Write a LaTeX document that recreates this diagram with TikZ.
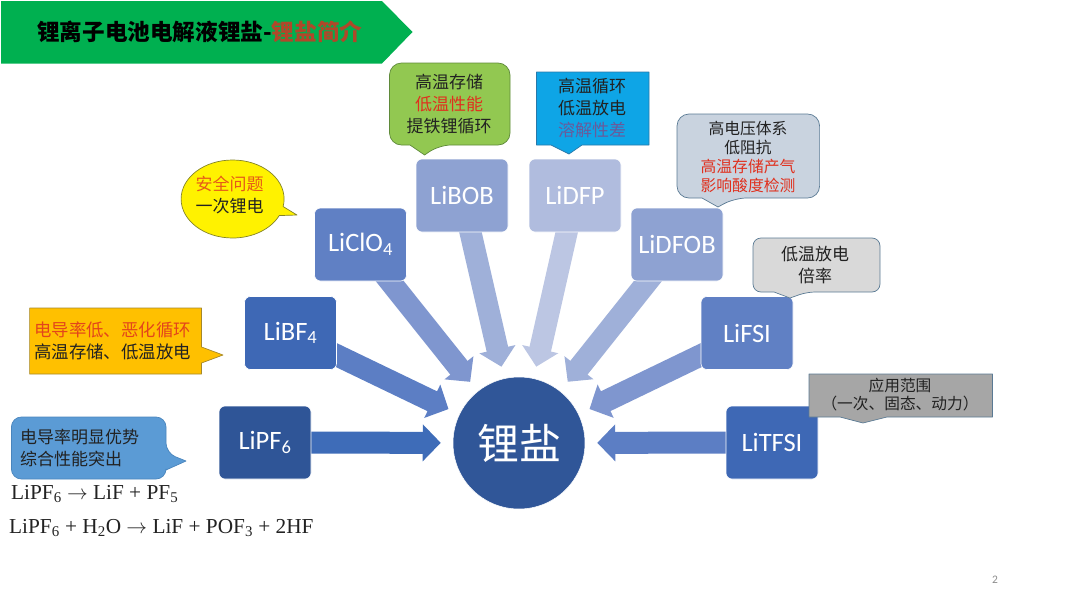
\documentclass[tikz,border=0pt]{standalone}
\usepackage{fontspec}
\setmainfont{Liberation Serif}
\setsansfont{Carlito}
\newfontfamily\cjk{Noto Sans CJK SC}
\usetikzlibrary{arrows.meta,backgrounds,shapes.callouts}
\definecolor{cA}{HTML}{2F5597}
\definecolor{cB}{HTML}{3E68B5}
\definecolor{cC}{HTML}{6080C4}
\definecolor{cD}{HTML}{8EA2D2}
\definecolor{cE}{HTML}{B0BCDE}
\definecolor{aA}{HTML}{3E6CB8}
\definecolor{aB}{HTML}{5C7EC4}
\definecolor{aC}{HTML}{7F96CF}
\definecolor{aD}{HTML}{9FB0D9}
\definecolor{aE}{HTML}{BCC6E3}
\definecolor{hotred}{HTML}{E0301E}
\definecolor{titlered}{HTML}{B0482A}
\definecolor{dullpurple}{HTML}{6A5A9A}
\definecolor{ink}{HTML}{222222}
\definecolor{edgeblue}{HTML}{5A7A94}
\definecolor{titlegreen}{HTML}{00B050}
\tikzset{
  saltbox/.style={rounded corners=6pt,minimum width=92pt,minimum height=73pt,inner sep=0pt,text=white,draw=white,line width=.6pt,
    font=\sffamily\fontsize{26.5}{29}\selectfont},
  fatarrow/.style={line width=22pt,-{Triangle[length=18pt,width=36pt]},shorten >=12pt},
  note/.style={font=\cjk\fontsize{17}{22}\selectfont,text=ink,align=center,inner sep=0pt},
  smallnote/.style={font=\cjk\fontsize{15.8}{19}\selectfont,text=ink,align=center,inner sep=0pt},
  shell/.style={line width=.7pt,line join=round},
  formula/.style={font=\fontsize{21.3}{24}\selectfont,text=ink,anchor=base west,inner sep=0pt},
}
\begin{document}
\begin{tikzpicture}[x=1pt,y=-1pt]
\useasboundingbox (0,0) rectangle (1080,608);
% title
\path[fill=titlegreen] (1,1) -- (382,1) -- (412.5,32) -- (382,63.5) -- (1,63.5) -- cycle;
\node[anchor=west,inner sep=0pt,font=\cjk\bfseries\fontsize{22.6}{26}\selectfont,text=black] (title) at (37,31.5) {锂离子电池电解液锂盐-\textcolor{titlered}{锂盐简介}};
% centre
\node[circle,minimum size=132pt,inner sep=0pt,fill=cA!95!cB,draw=white,line width=.5pt,text=white,font=\cjk\fontsize{42}{46}\selectfont] (salt) at (519,443) {锂盐};
% salts
\node[saltbox,fill=cA] (pf) at (265,442.5) {LiPF\textsubscript{6}};
\node[saltbox,fill=cB] (bf) at (290.5,333) {LiBF\textsubscript{4}};
\node[saltbox,fill=cC] (clo) at (360.5,244.5) {LiClO\textsubscript{4}};
\node[saltbox,fill=cD] (bob) at (462,195.5) {LiBOB};
\node[saltbox,fill=cE] (dfp) at (575,195.5) {LiDFP};
\node[saltbox,fill=cD] (dfob) at (677,244.5) {LiDFOB};
\node[saltbox,fill=cC] (fsi) at (747,333) {LiFSI};
\node[saltbox,fill=cB] (tfsi) at (772,442.5) {LiTFSI};
\begin{scope}[on background layer]
\draw[fatarrow,aA] (pf.center) -- (salt);
\draw[fatarrow,aB] (bf.center) -- (salt);
\draw[fatarrow,aC] (clo.center) -- (salt);
\draw[fatarrow,aD] (bob.center) -- (salt);
\draw[fatarrow,aE] (dfp.center) -- (salt);
\draw[fatarrow,aD] (dfob.center) -- (salt);
\draw[fatarrow,aC] (fsi.center) -- (salt);
\draw[fatarrow,aB] (tfsi.center) -- (salt);
\end{scope}
% green callout
\draw[shell,fill={rgb,255:red,146;green,200;blue,81},draw={rgb,255:red,95;green,138;blue,58},rounded corners=12pt]
  (389.5,104) -- (389.5,63) -- (510,63) -- (510,145) -- (439,145) [sharp corners] -- (424.6,155) -- (410,145) [rounded corners=12pt] -- (389.5,145) -- cycle;
\node[note] (nbob) at (449,104) {高温存储\\\textcolor{hotred}{低温性能}\\提铁锂循环};
% blue callout
\draw[shell,fill={rgb,255:red,14;green,165;blue,230},draw={rgb,255:red,40;green,120;blue,170}]
  (536.5,72) -- (649,72) -- (649,145) -- (582,145) -- (569,154) -- (551,145) -- (536.5,145) -- cycle;
\node[note] (ndfp) at (592,108) {高温循环\\低温放电\\\textcolor{dullpurple}{溶解性差}};
% DFOB callout
\draw[shell,fill={rgb,255:red,201;green,211;blue,223},draw=edgeblue,rounded corners=12pt]
  (677,156) -- (677,114) -- (819.6,114) -- (819.6,198) -- (734.5,198) [sharp corners] -- (718,207) -- (702,198) [rounded corners=12pt] -- (677,198) -- cycle;
\node[smallnote] (ndfob) at (748,156.5) {高电压体系\\低阻抗\\\textcolor{hotred}{高温存储产气}\\\textcolor{hotred}{影响酸度检测}};
% FSI callout
\draw[shell,fill={rgb,255:red,217;green,217;blue,217},draw=edgeblue,rounded corners=8pt]
  (753,265) -- (753,238) -- (880,238) -- (880,292) -- (807,292) [sharp corners] -- (790,298) -- (774,292) [rounded corners=8pt] -- (753,292) -- cycle;
\node[note] (nfsi) at (815,265) {低温放电\\倍率};
% TFSI callout
\draw[shell,fill={rgb,255:red,166;green,166;blue,166},draw=edgeblue]
  (809,374) -- (992.5,374) -- (992.5,417) -- (887,417) -- (863,423) -- (840,417) -- (809,417) -- cycle;
\node[font=\cjk\fontsize{15.7}{18}\selectfont,text=ink,align=center,inner sep=0pt] (ntfsi) at (900,395) {应用范围\\（一次、固态、动力）};
% yellow callout
\node[ellipse callout,minimum width=103pt,minimum height=78pt,inner sep=0pt,callout absolute pointer={(297,215)},callout pointer arc=14,fill=yellow,draw={rgb,255:red,130;green,130;blue,40},shell] (yshell) at (232.6,199) {};
\node[note] (nclo) at (229.5,195) {\textcolor{hotred!80!yellow}{安全问题}\\一次锂电};
% orange callout
\draw[shell,fill={rgb,255:red,255;green,192;blue,0},draw={rgb,255:red,165;green,136;blue,42}]
  (29.6,308) -- (201.5,308) -- (201.5,347) -- (223,355) -- (201.5,363) -- (201.5,374) -- (29.6,374) -- cycle;
\node[note,font=\cjk\fontsize{17.4}{22}\selectfont,align=left,anchor=west] (nbf) at (34,341) {\textcolor{hotred!90!yellow}{电导率低、恶化循环}\\高温存储、低温放电};
% light-blue callout
\draw[shell,fill={rgb,255:red,91;green,155;blue,213},draw={rgb,255:red,74;green,133;blue,189},rounded corners=10pt]
  (11.4,448) -- (11.4,417) -- (166,417) -- (166,453) [sharp corners] -- (186,461) -- (166,470) [rounded corners=10pt] -- (166,479) -- (11.4,479) -- cycle;
\node[note,align=left,anchor=west,text=ink] (npf) at (20,448) {电导率明显优势\\综合性能突出};
% formulas
\node[formula] (f1) at (11,499) {LiPF\textsubscript{6} $\rightarrow$ LiF + PF\textsubscript{5}};
\node[formula] (f2) at (9,533) {LiPF\textsubscript{6} + H\textsubscript{2}O $\rightarrow$ LiF + POF\textsubscript{3} + 2HF};
% page number
\node[font=\sffamily\fontsize{11.5}{13}\selectfont,text=black!45] (page) at (995,580) {2};
\end{tikzpicture}
\end{document}
